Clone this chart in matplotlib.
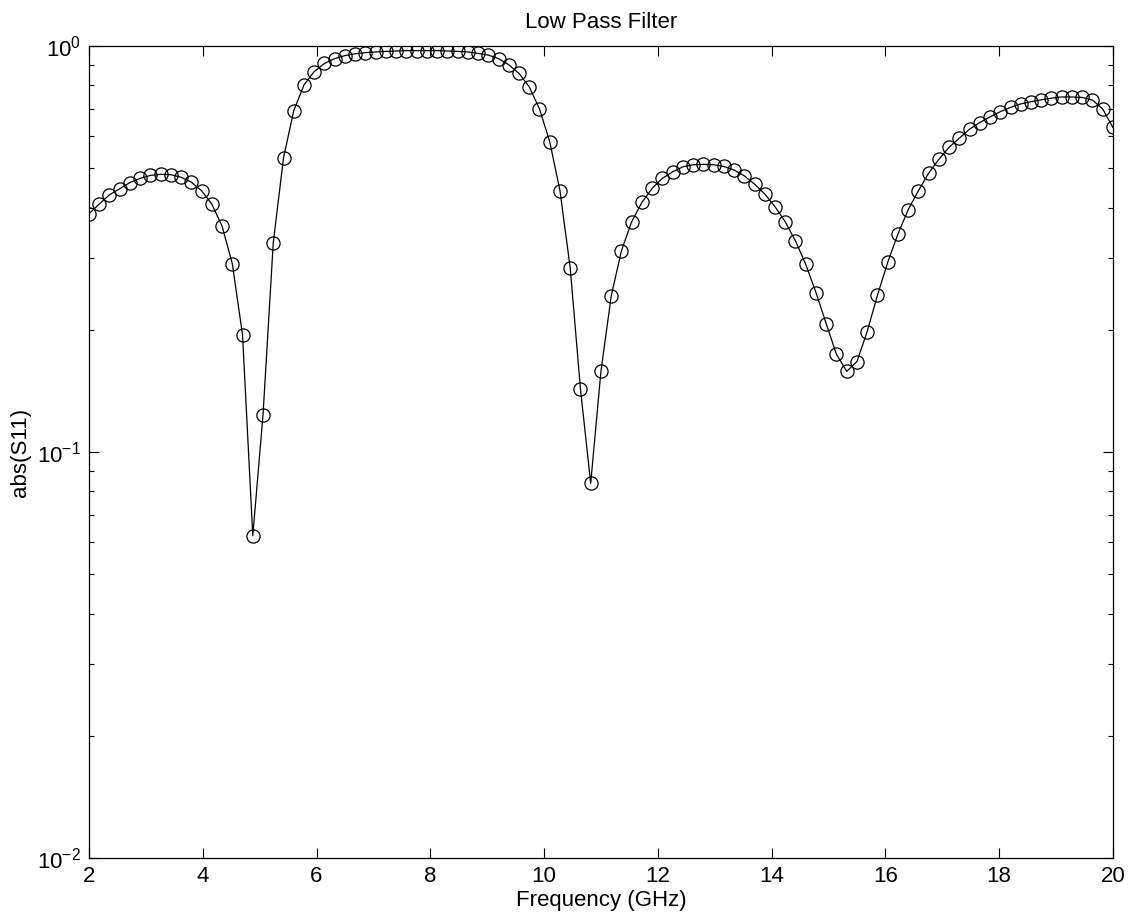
import matplotlib
matplotlib.use("Agg")
import matplotlib.pyplot as plt
import numpy as np

plt.rcParams["font.family"] = ["Liberation Sans", "DejaVu Sans"]

# 101 frequency points from 2 to 20 GHz
freq_start = 2.0
freq_step = 0.18
s11 = [
    0.386, 0.408, 0.430, 0.445, 0.461, 0.472, 0.480, 0.483, 0.482, 0.475,
    0.462, 0.440, 0.408, 0.360, 0.291, 0.194, 0.0622, 0.1236, 0.328, 0.530,
    0.693, 0.802, 0.865, 0.906, 0.931, 0.947, 0.957, 0.963, 0.967, 0.970,
    0.972, 0.974, 0.974, 0.974, 0.974, 0.972, 0.970, 0.967, 0.959, 0.950,
    0.931, 0.899, 0.856, 0.793, 0.700, 0.581, 0.440, 0.284, 0.143, 0.0837,
    0.158, 0.242, 0.313, 0.369, 0.412, 0.446, 0.472, 0.490, 0.504, 0.510,
    0.511, 0.510, 0.505, 0.495, 0.479, 0.457, 0.432, 0.402, 0.369, 0.331,
    0.290, 0.247, 0.207, 0.174, 0.158, 0.167, 0.198, 0.243, 0.293, 0.344,
    0.395, 0.440, 0.486, 0.526, 0.563, 0.593, 0.624, 0.648, 0.669, 0.689,
    0.706, 0.720, 0.729, 0.737, 0.744, 0.749, 0.749, 0.747, 0.736, 0.700,
    0.630,
]
freq = freq_start + freq_step * np.arange(len(s11))

fig = plt.figure(figsize=(11.39, 9.22), dpi=100)
ax = fig.add_axes([0.0781, 0.0694, 0.8990, 0.8807])

ax.semilogy(freq, s11, "-", color="black", linewidth=0.9,
            marker="o", markersize=9.5, markerfacecolor="none",
            markeredgecolor="black", markeredgewidth=0.9)

ax.set_xlim(2, 20)
ax.set_ylim(1e-2, 1)
ax.set_xticks(np.arange(2, 21, 2))
ax.tick_params(which="both", direction="in", top=True, right=True, labelsize=16)
ax.tick_params(which="major", length=7, width=0.8, pad=6)
ax.tick_params(which="minor", length=3.6, width=0.8)
ax.xaxis.set_minor_locator(matplotlib.ticker.NullLocator())
ax.yaxis.set_minor_locator(matplotlib.ticker.LogLocator(base=10, subs=np.arange(2, 10)))
ax.yaxis.set_minor_formatter(matplotlib.ticker.NullFormatter())
for sp in ax.spines.values():
    sp.set_linewidth(0.9)

ax.set_title("Low Pass Filter", fontsize=16, pad=13)
ax.set_xlabel("Frequency (GHz)", fontsize=16, labelpad=2)
ax.set_ylabel("abs(S11)", fontsize=16, labelpad=4)

fig.savefig("out.png", dpi=100)
